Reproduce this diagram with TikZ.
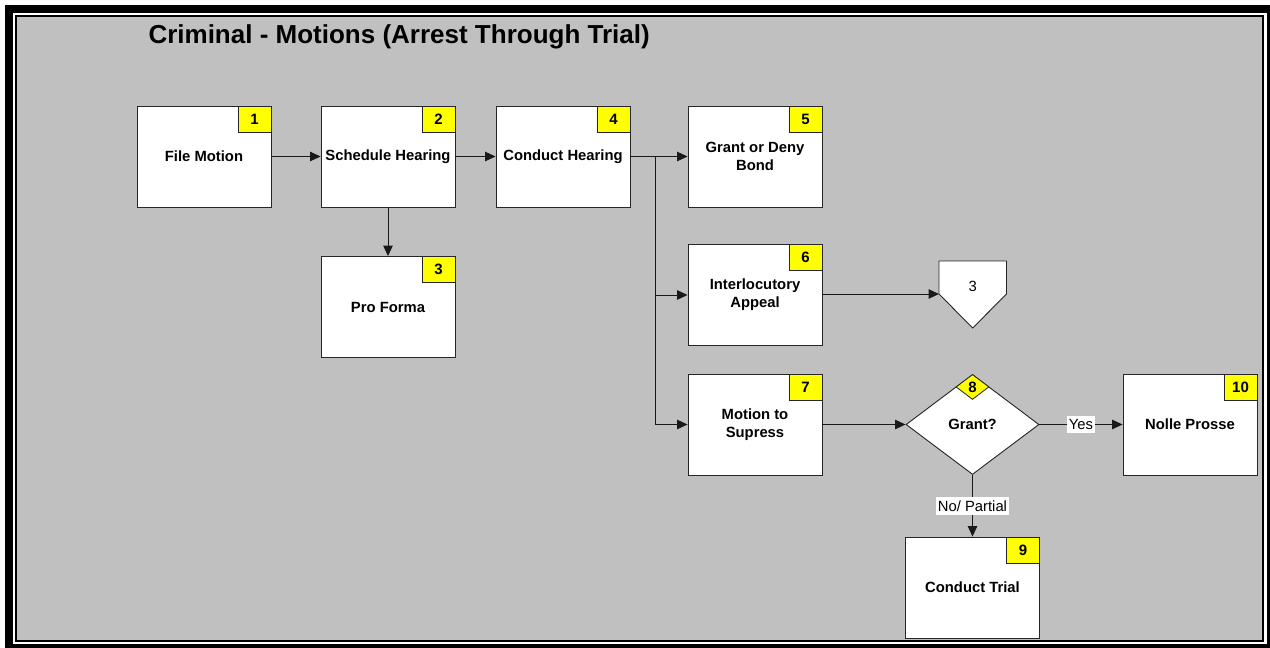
\documentclass[tikz,border=0pt]{standalone}
\usepackage{fontspec}
\setmainfont{Liberation Sans}
\usetikzlibrary{arrows.meta,shapes.geometric}
\definecolor{bg}{RGB}{192,192,192}
\definecolor{badgey}{RGB}{255,255,0}
\begin{document}
\begin{tikzpicture}[x=1pt,y=-1pt,
  box/.style={draw=black!85, fill=white, line width=0.9pt, minimum width=134pt, minimum height=101pt, inner sep=0pt, font=\fontsize{14.8}{18}\selectfont\bfseries, align=center},
  badge/.style={draw=black!85, fill=badgey, line width=0.8pt, minimum width=33pt, minimum height=26pt, inner sep=0pt, anchor=north east, font=\fontsize{15}{17}\selectfont\bfseries},
  conn/.style={draw=black!90, line width=1pt, -{Triangle[length=10.5pt,width=9.5pt]}},
  lbl/.style={fill=white, inner xsep=2pt, inner ysep=3.5pt, font=\fontsize{14.8}{17}\selectfont}]
\useasboundingbox (0,0) rectangle (1270,648);
\fill[black] (5,5) rectangle (1270,648);
\fill[white] (13,13) rectangle (1267,644);
\filldraw[fill=bg, draw=black, line width=2pt] (16,16) rectangle (1263,641);

\node[anchor=west, font=\fontsize{26}{30}\selectfont\bfseries] (title) at (145,37) {Criminal - Motions (Arrest Through Trial)};

\node[box] (n1) at (204,156.5) {File Motion};
\node[box] (n2) at (388,156.5) {Schedule Hearing};
\node[box] (n4) at (563,156.5) {Conduct Hearing};
\node[box] (n5) at (755,156.5) {Grant or Deny\\Bond};
\node[box] (n3) at (388,307) {Pro Forma};
\node[box] (n6) at (755,295) {Interlocutory\\Appeal};
\node[box] (n7) at (755,424.5) {Motion to\\Supress};
\node[box] (n9) at (972.5,587.5) {Conduct Trial};
\node[box] (n10) at (1190,424.5) {Nolle Prosse};

\node[badge] (b1) at (n1.north east) {1};
\node[badge] (b2) at (n2.north east) {2};
\node[badge] (b3) at (n3.north east) {3};
\node[badge] (b4) at (n4.north east) {4};
\node[badge] (b5) at (n5.north east) {5};
\node[badge] (b6) at (n6.north east) {6};
\node[badge] (b7) at (n7.north east) {7};
\node[badge] (b9) at (n9.north east) {9};
\node[badge] (b10) at (n10.north east) {10};

\node[diamond, draw=black!85, fill=white, line width=0.9pt, minimum width=133pt, minimum height=100pt, aspect=1.33, inner sep=0pt, font=\fontsize{14.8}{17}\selectfont\bfseries] (d8) at (972.5,424.5) {Grant?};
\node[diamond, draw=black!85, fill=badgey, line width=0.8pt, minimum width=33pt, minimum height=25pt, aspect=1.32, inner sep=0pt, anchor=north, font=\fontsize{15}{17}\selectfont\bfseries] (b8) at (d8.north) {8};

\filldraw[fill=white, draw=black!85, line width=0.9pt] (939,261) -- (1006.5,261) -- (1006.5,294) -- (972.7,328) -- (939,294) -- cycle;
\node[font=\fontsize{14.8}{17}\selectfont] (op3) at (972.7,286) {3};
\coordinate (op3in) at (939,294);

\draw[conn] (n1) -- (n2);
\draw[conn] (n2) -- (n4);
\draw[conn] (n2) -- (n3);
\coordinate (bus) at (655,156.5);
\draw[conn] (n4) -- (n5);
\draw[conn] (bus) |- (n6.west);
\draw[conn] (bus) |- (n7.west);
\draw[conn] (n6.east |- op3in) -- (op3in);
\draw[conn] (n7) -- (d8);
\draw[conn] (d8) -- node[lbl]{Yes} (n10);
\draw[conn] (d8) -- node[lbl]{No/ Partial} (n9);
\end{tikzpicture}
\end{document}
